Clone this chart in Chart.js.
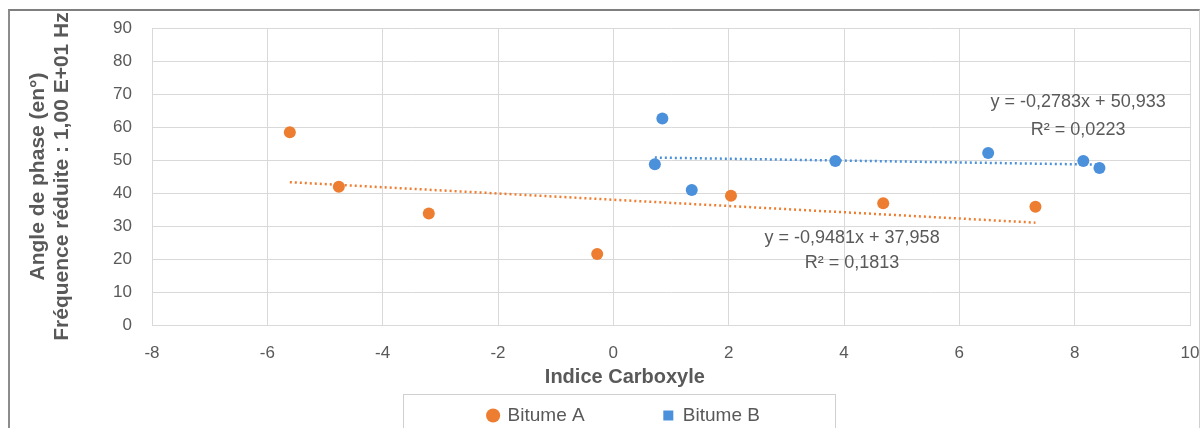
<!DOCTYPE html>
<html>
<head>
<meta charset="utf-8">
<script src="https://cdn.jsdelivr.net/npm/chart.js@4.4.1/dist/chart.umd.min.js"></script>
<style>
  html, body { margin: 0; padding: 0; background: #fff; }
  #wrap { position: relative; width: 1203px; height: 428px; overflow: hidden; }
  #frame { position: absolute; left: 8px; top: 9px; width: 1189px; height: 440px;
    border-top: 2px solid #7f7f7f; border-left: 2px solid #8c8c8c; border-right: 1px solid #d0d0d0;
    pointer-events: none; }
</style>
</head>
<body>
<div id="wrap">
  <canvas id="chart" width="1203" height="428"></canvas>
  <div id="frame"></div>
</div>
<script>
'use strict';
//****************************
// DATA
//****************************
var seriesNames = ['Bitume A', 'Bitume B'];
var bitumeAX = [-5.61, -4.76, -3.20, -0.28, 2.04, 4.68, 7.32];
var bitumeAY = [58.4, 41.9, 33.8, 21.5, 39.2, 36.9, 35.8];
var bitumeBX = [0.85, 0.72, 1.36, 3.85, 6.50, 8.15, 8.43];
var bitumeBY = [62.6, 48.7, 40.9, 49.7, 52.1, 49.7, 47.6];
// trend line equations printed on the chart
var trendSlope = [-0.9481, -0.2783];
var trendIntercept = [37.958, 50.933];
var trendText = [['y = -0,9481x + 37,958', 'R² = 0,1813'], ['y = -0,2783x + 50,933', 'R² = 0,0223']];
var xTitle = 'Indice Carboxyle';
var yTitle = ['Angle de phase (en°)', 'Fréquence réduite : 1,00 E+01 Hz'];
var xTicks = [-8, -6, -4, -2, 0, 2, 4, 6, 8, 10];
var yTicks = [0, 10, 20, 30, 40, 50, 60, 70, 80, 90];

var orange = '#ED7D31';
var blue = '#4A90DA';
var textGrey = '#595959';
var fontFam = '"Liberation Sans", Arial, sans-serif';

function toPoints(xs, ys) {
  var pts = [];
  for (var i = 0; i < xs.length; i++) {
    pts.push({ x: xs[i], y: ys[i] });
  }
  return pts;
}

function trendPoints(xs, k) {
  var lo = Math.min.apply(null, xs);
  var hi = Math.max.apply(null, xs);
  return [
    { x: lo, y: trendSlope[k] * lo + trendIntercept[k] },
    { x: hi, y: trendSlope[k] * hi + trendIntercept[k] }
  ];
}

// equation labels, x title, legend frame
var extras = {
  id: 'extras',
  afterLayout: function(chart) {
    // legend sits a bit right of centre in the original
    var lg = chart.legend;
    if (lg) {
      lg.left += 29;
      lg.right += 29;
    }
  },
  afterDatasetsDraw: function(chart) {
    var ctx = chart.ctx;
    var xs = chart.scales.x;
    var ys = chart.scales.y;
    var spots = [[4.14, 26.4, 18.8], [8.06, 67.6, 59.1]];
    ctx.save();
    ctx.fillStyle = textGrey;
    ctx.font = '18px ' + fontFam;
    ctx.textAlign = 'center';
    ctx.textBaseline = 'middle';
    for (var k = 0; k < 2; k++) {
      var px = xs.getPixelForValue(spots[k][0]);
      ctx.fillText(trendText[k][0], px, ys.getPixelForValue(spots[k][1]));
      ctx.fillText(trendText[k][1], px, ys.getPixelForValue(spots[k][2]));
    }
    // axis title, placed like the original (left of centre)
    ctx.font = 'bold 20px ' + fontFam;
    ctx.fillText(xTitle, xs.getPixelForValue(0.2), xs.bottom - 19);
    ctx.restore();
  },
  afterDraw: function(chart) {
    var lg = chart.legend;
    if (!lg || !lg.legendHitBoxes.length) return;
    var boxes = lg.legendHitBoxes;
    var first = boxes[0];
    var last = boxes[boxes.length - 1];
    var mid = (first.left + last.left + last.width) / 2;
    var ctx = chart.ctx;
    ctx.save();
    ctx.strokeStyle = '#d0d0d0';
    ctx.lineWidth = 1;
    ctx.strokeRect(Math.round(mid - 221) + 0.5, lg.top - 1.5, 432, 60);
    ctx.restore();
  }
};

var ctx = document.getElementById('chart').getContext('2d');
var chart = new Chart(ctx, {
  type: 'scatter',
  data: {
    datasets: [{
      label: seriesNames[0],
      data: toPoints(bitumeAX, bitumeAY),
      backgroundColor: orange,
      borderColor: orange,
      borderWidth: 0,
      pointRadius: 6,
      order: 1
    }, {
      label: seriesNames[1],
      data: toPoints(bitumeBX, bitumeBY),
      backgroundColor: blue,
      borderColor: blue,
      borderWidth: 0,
      pointRadius: 6,
      order: 1
    }, {
      label: 'trendA',
      type: 'line',
      data: trendPoints(bitumeAX, 0),
      borderColor: orange,
      borderWidth: 2.5,
      borderDash: [2, 3],
      pointRadius: 0,
      fill: false,
      order: 2
    }, {
      label: 'trendB',
      type: 'line',
      data: trendPoints(bitumeBX, 1),
      borderColor: blue,
      borderWidth: 2.5,
      borderDash: [2, 3],
      pointRadius: 0,
      fill: false,
      order: 2
    }]
  },
  options: {
    responsive: false,
    animation: false,
    devicePixelRatio: 1,
    layout: { padding: { left: 0, top: 28, right: 13, bottom: 0 } },
    plugins: {
      tooltip: { enabled: false },
      legend: {
        position: 'bottom',
        maxHeight: 32,
        labels: {
          usePointStyle: true,
          boxWidth: 10,
          boxHeight: 10,
          padding: 10,
          color: textGrey,
          font: { family: fontFam, size: 19 },
          filter: function(item) { return item.datasetIndex < 2; },
          generateLabels: function(chart) {
            var items = Chart.defaults.plugins.legend.labels.generateLabels(chart);
            items.forEach(function(it) {
              it.lineWidth = 0;
              if (it.datasetIndex === 0) {
                it.pointStyle = 'circle';
                it.text = it.text + '             ';
              } else {
                it.pointStyle = 'rect';
              }
            });
            return items;
          }
        }
      }
    },
    scales: {
      x: {
        type: 'linear',
        min: xTicks[0],
        max: xTicks[xTicks.length - 1],
        afterBuildTicks: function(scale) {
          scale.ticks = xTicks.map(function(v) { return { value: v }; });
        },
        afterFit: function(scale) { scale.height = 71; },
        grid: { color: '#d9d9d9', drawTicks: true, tickLength: 16, tickColor: 'rgba(0,0,0,0)' },
        border: { color: '#d9d9d9' },
        ticks: { padding: 2, color: textGrey, font: { family: fontFam, size: 17 } },
        title: { display: false, text: xTitle }
      },
      y: {
        type: 'linear',
        min: yTicks[0],
        max: yTicks[yTicks.length - 1],
        afterBuildTicks: function(scale) {
          scale.ticks = yTicks.map(function(v) { return { value: v }; });
        },
        afterFit: function(scale) { scale.width = 152; },
        grid: { color: '#d9d9d9', drawTicks: true, tickLength: 18, tickColor: 'rgba(0,0,0,0)' },
        border: { color: '#d9d9d9' },
        ticks: { padding: 2, color: textGrey, font: { family: fontFam, size: 17 } },
        title: {
          display: true,
          text: yTitle,
          color: textGrey,
          padding: { top: 26, bottom: 0 },
          font: { family: fontFam, size: 21, weight: 'bold', lineHeight: 1.143 }
        }
      }
    }
  },
  plugins: [extras]
});
</script>
</body>
</html>
